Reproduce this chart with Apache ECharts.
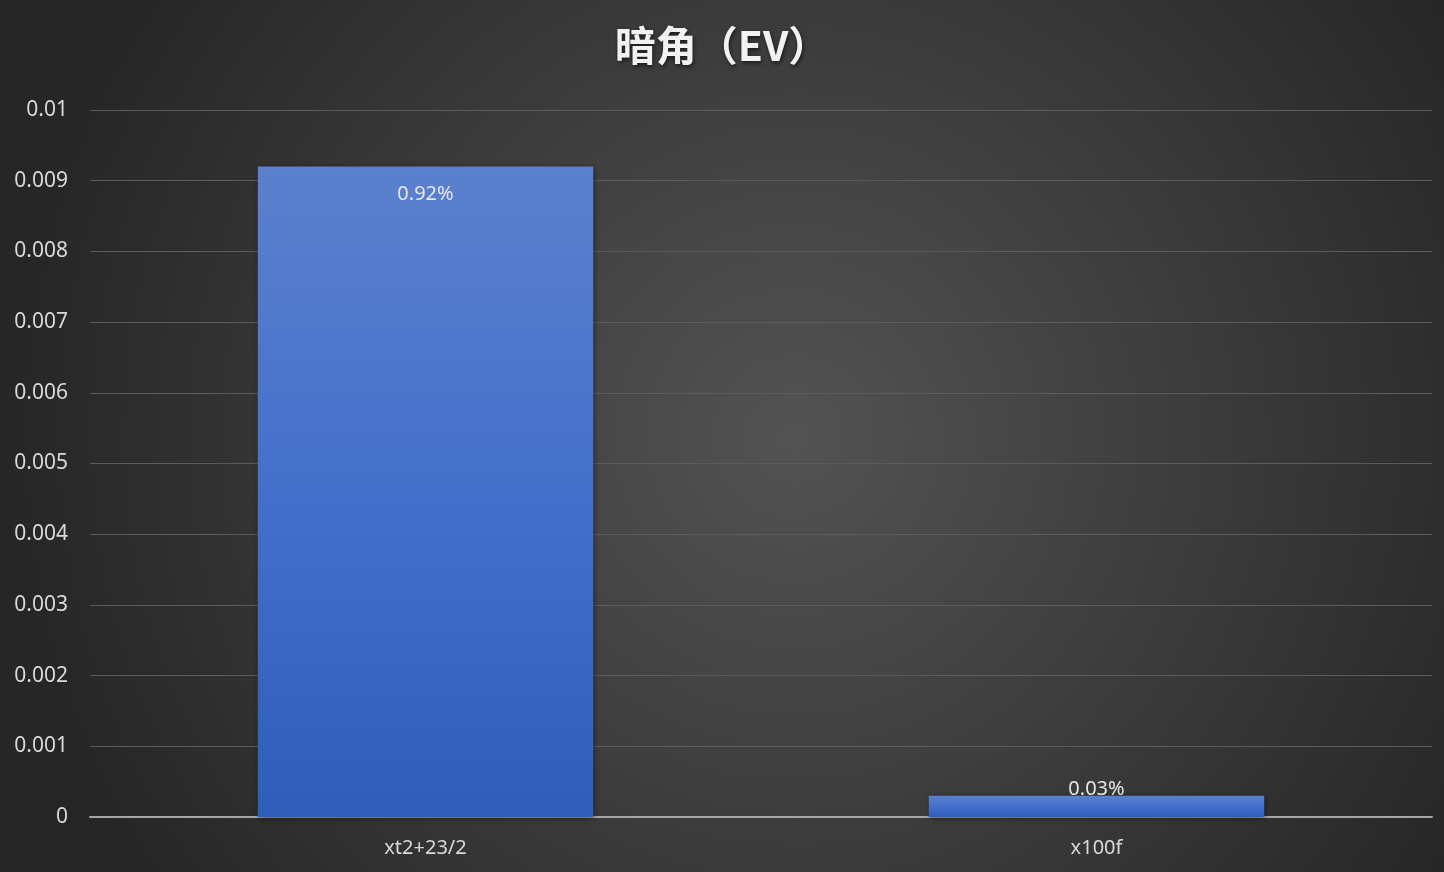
<!DOCTYPE html>
<html>
<head>
<meta charset="utf-8">
<script src="https://cdn.jsdelivr.net/npm/echarts@6/dist/echarts.min.js"></script>
<style>
  html, body { margin: 0; padding: 0; }
  #chart { width: 1444px; height: 872px; }
</style>
</head>
<body>
<div id="chart"></div>
<script>
// 数据
const categories = ['xt2+23/2', 'x100f']
const values = [0.0092, 0.0003]
const labels = ['0.92%', '0.03%']

const chart = echarts.init(document.getElementById('chart'))

const option = {
  backgroundColor: {
    type: 'radial', x: 0.55, y: 0.5, r: 0.9,
    colorStops: [
      { offset: 0, color: '#535353' },
      { offset: 1, color: '#262626' }
    ]
  },
  title: {
    text: '暗角（EV）',
    left: 'center',
    top: 20,
    textStyle: {
      color: '#f2f2f2',
      fontSize: 41,
      fontWeight: 'bold',
      fontFamily: 'Noto Sans CJK SC',
      textShadowColor: 'rgba(0,0,0,0.6)',
      textShadowBlur: 4,
      textShadowOffsetX: 1,
      textShadowOffsetY: 2
    }
  },
  grid: {
    left: 90,
    right: 12,
    top: 110,
    bottom: 55
  },
  xAxis: {
    type: 'category',
    data: categories,
    axisLine: { lineStyle: { color: '#a6a6a6', width: 2 } },
    axisTick: { show: false },
    axisLabel: {
      color: '#d9d9d9',
      fontSize: 20,
      fontFamily: 'Noto Sans',
      margin: 21
    }
  },
  yAxis: {
    type: 'value',
    min: 0,
    max: 0.01,
    interval: 0.001,
    axisLine: { show: false },
    axisTick: { show: false },
    splitLine: { lineStyle: { color: '#5c5c5c', width: 1 } },
    axisLabel: {
      color: '#d9d9d9',
      fontSize: 21,
      fontFamily: 'Noto Sans',
      margin: 22,
      formatter: v => (v === 0 ? '0' : String(+v.toFixed(3)))
    }
  },
  series: [
    {
      type: 'bar',
      barWidth: '50%',
      data: values.map((v, i) => ({
        value: v,
        label: {
          show: true,
          formatter: labels[i],
          position: i === 0 ? 'insideTop' : 'top',
          distance: i === 0 ? 18 : -4,
          color: '#e6e6e6',
          fontSize: 20,
          fontFamily: 'Noto Sans'
        }
      })),
      itemStyle: {
        color: {
          type: 'linear', x: 0, y: 0, x2: 0, y2: 1,
          colorStops: [
            { offset: 0, color: '#5b80cd' },
            { offset: 0.5, color: '#4470cb' },
            { offset: 1, color: '#2f5dbb' }
          ]
        },
        shadowColor: 'rgba(0,0,0,0.5)',
        shadowBlur: 6,
        shadowOffsetX: 1,
        shadowOffsetY: 1
      }
    }
  ]
}

chart.setOption(option)
</script>
</body>
</html>
